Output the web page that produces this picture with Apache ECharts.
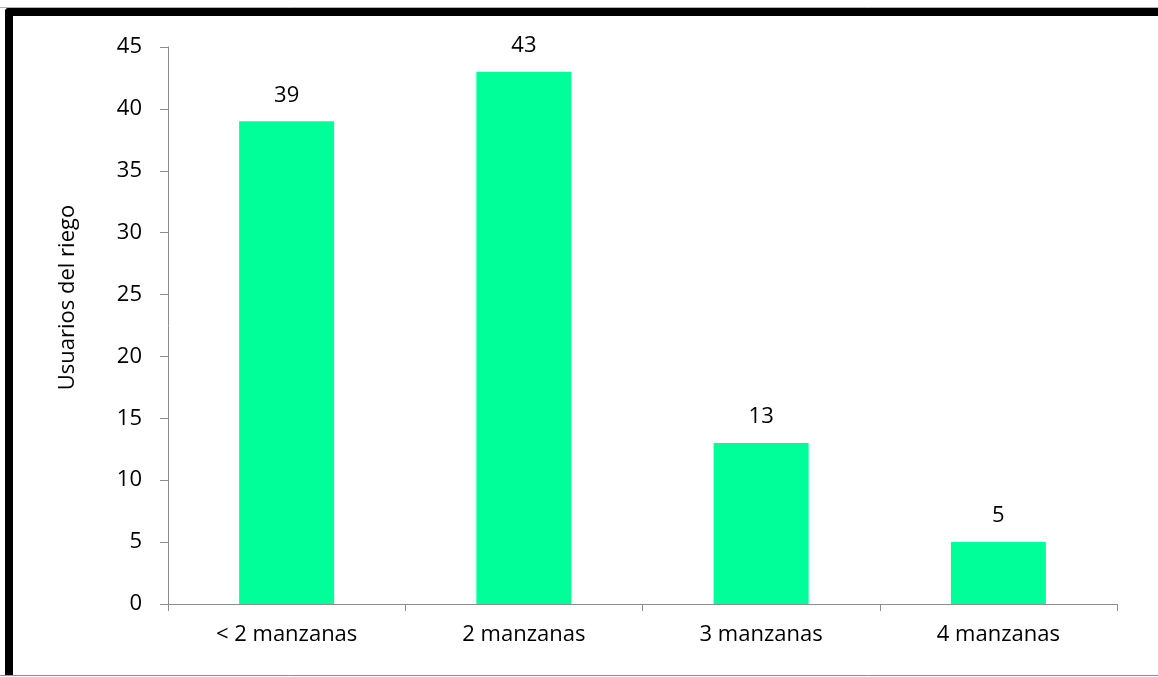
<!DOCTYPE html>
<html>
<head>
<meta charset="utf-8">
<script src="https://cdn.jsdelivr.net/npm/echarts@6/dist/echarts.min.js"></script>
<style>
  html, body { margin: 0; padding: 0; background: #fff; }
  #chart { width: 1158px; height: 677px; }
</style>
</head>
<body>
<div id="chart"></div>
<script>
// Irrigation users grouped by plot size
const categories = ['< 2 manzanas', '2 manzanas', '3 manzanas', '4 manzanas'];
const usuarios = [39, 43, 13, 5];
const yTicks = { min: 0, max: 45, interval: 5 };
const yAxisTitle = 'Usuarios del riego';

const FONT = '"Open Sans", "Noto Sans", sans-serif';
const chart = echarts.init(document.getElementById('chart'), null, { renderer: 'canvas' });

chart.setOption({
  backgroundColor: '#ffffff',
  animation: false,
  grid: { left: 168, right: 41, top: 47, bottom: 73, containLabel: false },
  xAxis: {
    type: 'category',
    data: categories,
    axisLine: { lineStyle: { color: '#8c8c8c', width: 1 } },
    axisTick: { show: true, length: 7, alignWithLabel: false, lineStyle: { color: '#8c8c8c' } },
    axisLabel: { color: '#000', fontSize: 22, fontFamily: FONT, margin: 20 }
  },
  yAxis: {
    type: 'value',
    min: yTicks.min,
    max: yTicks.max,
    interval: yTicks.interval,
    name: yAxisTitle,
    nameLocation: 'middle',
    nameGap: 89,
    nameTextStyle: { color: '#000', fontSize: 22, fontFamily: FONT, padding: [0, 0, 0, 56] },
    axisLine: { show: true, lineStyle: { color: '#8c8c8c', width: 1 } },
    axisTick: { show: true, length: 8, lineStyle: { color: '#8c8c8c' } },
    axisLabel: { color: '#000', fontSize: 22, fontFamily: FONT, margin: 26 },
    splitLine: { show: false }
  },
  series: [{
    type: 'bar',
    data: usuarios,
    barWidth: 95,
    itemStyle: { color: '#00ff99' },
    label: {
      show: true,
      position: 'top',
      distance: 15,
      color: '#000',
      fontSize: 22,
      fontFamily: FONT
    }
  }],
  graphic: [
    // outer frame: thin grey rule on top, heavy black border top/left, grey rule at bottom
    { type: 'line', shape: { x1: 0, y1: 7.5, x2: 1158, y2: 7.5 }, style: { stroke: '#b0b0b0', lineWidth: 1 }, silent: true },
    { type: 'rect', shape: { x: 5, y: 8, width: 1153, height: 8, r: [4, 0, 0, 0] }, style: { fill: '#000' }, silent: true },
    { type: 'rect', shape: { x: 5, y: 8, width: 8, height: 667, r: [4, 0, 0, 0] }, style: { fill: '#000' }, silent: true },
    { type: 'line', shape: { x1: 0, y1: 675.5, x2: 1158, y2: 675.5 }, style: { stroke: '#8c8c8c', lineWidth: 1 }, silent: true }
  ]
});
</script>
</body>
</html>
